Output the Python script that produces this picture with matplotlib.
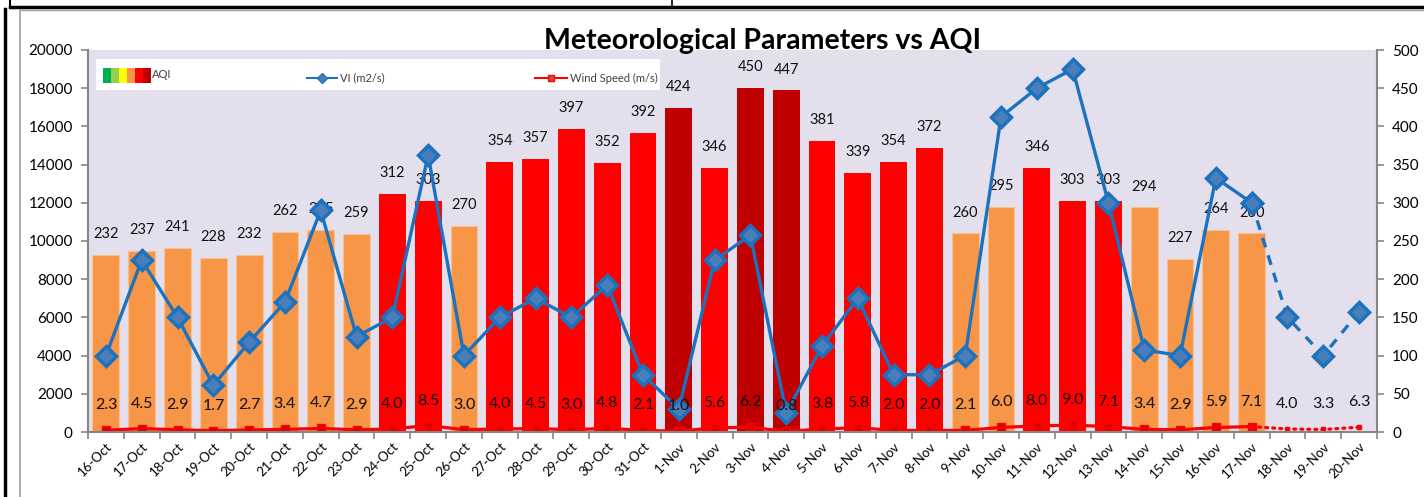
import numpy as np
import matplotlib
matplotlib.use("Agg")
import matplotlib.pyplot as plt
from matplotlib.patches import Rectangle
from matplotlib.lines import Line2D

plt.rcParams['font.family'] = ['Lato', 'DejaVu Sans']

# ---- data ----
dates = ['16-Oct', '17-Oct', '18-Oct', '19-Oct', '20-Oct', '21-Oct', '22-Oct', '23-Oct',
         '24-Oct', '25-Oct', '26-Oct', '27-Oct', '28-Oct', '29-Oct', '30-Oct', '31-Oct',
         '1-Nov', '2-Nov', '3-Nov', '4-Nov', '5-Nov', '6-Nov', '7-Nov', '8-Nov',
         '9-Nov', '10-Nov', '11-Nov', '12-Nov', '13-Nov', '14-Nov', '15-Nov', '16-Nov',
         '17-Nov', '18-Nov', '19-Nov', '20-Nov']

aqi = [232, 237, 241, 228, 232, 262, 265, 259, 312, 303, 270, 354, 357, 397, 352, 392,
       424, 346, 450, 447, 381, 339, 354, 372, 260, 295, 346, 303, 303, 294, 227, 264, 260]

vi = [4000, 9000, 6000, 2450, 4700, 6800, 11600, 5000, 6000, 14500, 4000, 6000, 7000, 6000,
      7700, 3000, 1200, 9000, 10300, 1000, 4500, 7000, 3000, 3000, 4000, 16500, 18000, 19000,
      12000, 4300, 4000, 13300, 12000, 6000, 4000, 6300]

wind = [2.3, 4.5, 2.9, 1.7, 2.7, 3.4, 4.7, 2.9, 4.0, 8.5, 3.0, 4.0, 4.5, 3.0, 4.8, 2.1,
        1.0, 5.6, 6.2, 0.8, 3.8, 5.8, 2.0, 2.0, 2.1, 6.0, 8.0, 9.0, 7.1, 3.4, 2.9, 5.9,
        7.1, 4.0, 3.3, 6.3]

n_obs = len(aqi)   # observed days; the rest are forecast (dashed / dotted)

aqi_scale = ['#00B050', '#92D050', '#FFFF00', '#F79646', '#FF0000', '#C00000']


def aqi_color(v):
    if v > 400:
        return '#C00000'
    if v > 300:
        return '#FF0000'
    if v > 200:
        return '#F79646'
    return '#FFFF00'


x = np.arange(len(dates))
xo = x[:n_obs]
xf = x[n_obs - 1:]

fig = plt.figure(figsize=(14.24, 4.97), dpi=100)
ax = fig.add_axes([88 / 1424, 1 - 432 / 497, 1289 / 1424, 382 / 497])
ax2 = ax.twinx()

# VI axis (left) drawn on top of the AQI bars (right axis)
ax.set_zorder(ax2.get_zorder() + 1)
ax.patch.set_visible(False)
ax2.patch.set_visible(True)
ax2.patch.set_facecolor('#E4DFEC')

# bars
ax2.bar(xo, aqi, width=0.75, color=[aqi_color(v) for v in aqi],
        edgecolor=['#FAC090' if aqi_color(v) == '#F79646' else 'none' for v in aqi],
        linewidth=0.8, zorder=2)
for xi, v in zip(xo, aqi):
    ax2.annotate(str(v), (xi, v), xytext=(0, 15), textcoords='offset points',
                 ha='center', va='center', fontsize=10.5, color='#111111', zorder=3)

# wind speed
ax2.plot(xo, wind[:n_obs], color='#FF0000', lw=2.3, marker='s', ms=5.5,
         mec='#FF0000', mfc='#E00000', zorder=4)
ax2.plot(xf, wind[n_obs - 1:], color='#FF0000', lw=2.3, ls=(0, (0.6, 1.6)),
         dash_capstyle='round', marker='s', ms=3.5, zorder=4)

# VI
blue = '#1C72BD'
ax.plot(xo, vi[:n_obs], color=blue, lw=2.4, marker='D', ms=10, mfc='#4A7EBB',
        mec=blue, mew=2.5, zorder=5)
ax.plot(xf, vi[n_obs - 1:], color=blue, lw=2.4, ls=(0, (3, 2.5)), marker='D', ms=10,
        mfc='#4A7EBB', mec=blue, mew=2.5, zorder=5)

# wind labels sit on top of the VI line
for xi, v in zip(x, wind):
    ax.annotate(f'{v:.1f}', (xi, v), xycoords=ax2.transData, xytext=(0, 18),
                textcoords='offset points', ha='center', va='center', fontsize=11.5,
                color='#111111', zorder=6)

# axes
ax.set_xlim(-0.5, len(dates) - 0.5)
ax.set_ylim(0, 20000)
ax.set_yticks(np.arange(0, 20001, 2000))
ax2.set_ylim(0, 500)
ax2.set_yticks(np.arange(0, 501, 50))

ax.set_xticks(x)
ax.set_xticklabels(dates, rotation=45, ha='right', rotation_mode='anchor', fontsize=9.5)
ax.set_xticks(np.arange(-0.5, len(dates)), minor=True)
ax.tick_params(axis='x', which='major', length=0, pad=6)
ax.tick_params(axis='x', which='minor', length=5, color='#868686', width=1.2)
ax.tick_params(axis='y', length=5, color='#868686', width=1.2, labelsize=11, pad=6)
ax2.tick_params(axis='y', length=5, color='#868686', width=1.2, labelsize=11, pad=6)

for a in (ax, ax2):
    for s in a.spines.values():
        s.set_visible(False)
ax.spines['left'].set_visible(True)
ax.spines['bottom'].set_visible(True)
ax2.spines['right'].set_visible(True)
for s in (ax.spines['left'], ax.spines['bottom'], ax2.spines['right']):
    s.set_color('#868686')
    s.set_linewidth(1.5)

# legend box (drawn by hand to mimic the Excel legend)
def fx(px):
    return (px - 88) / 1289


def fy(py):
    return (432 - py) / 382


ax.add_patch(Rectangle((fx(96), fy(90)), fx(660) - fx(96), fy(59) - fy(90),
                       transform=ax.transAxes, facecolor='white', edgecolor='none',
                       zorder=7))
bw = 8
for i, c in enumerate(aqi_scale):
    ax.add_patch(Rectangle((fx(103 + i * bw), fy(83)), fx(103 + (i + 1) * bw) - fx(103 + i * bw),
                           fy(68) - fy(83), transform=ax.transAxes, facecolor=c,
                           edgecolor='none', zorder=8))
ax.text(fx(152), fy(75), 'AQI', transform=ax.transAxes, fontsize=8, color='#404040',
        va='center', ha='left', zorder=8)
ax.add_line(Line2D([fx(307), fx(337)], [fy(78), fy(78)], transform=ax.transAxes,
                   color=blue, lw=1.5, zorder=8))
ax.add_line(Line2D([fx(322)], [fy(78)], transform=ax.transAxes, marker='D', ms=5,
                   color=blue, mfc='#4A7EBB', zorder=9))
ax.text(fx(340), fy(78), 'VI (m2/s)', transform=ax.transAxes, fontsize=8,
        color='#404040', va='center', ha='left', zorder=8)
ax.add_line(Line2D([fx(535), fx(567)], [fy(78), fy(78)], transform=ax.transAxes,
                   color='#FF0000', lw=1.5, zorder=8))
ax.add_line(Line2D([fx(551)], [fy(78)], transform=ax.transAxes, marker='s', ms=5,
                   color='#FF0000', mfc='#C0504D', zorder=9))
ax.text(fx(570), fy(78), 'Wind Speed (m/s)', transform=ax.transAxes, fontsize=8,
        color='#404040', va='center', ha='left', zorder=8)

fig.text(763 / 1424, 1 - 41 / 497, 'Meteorological Parameters vs AQI', fontsize=20.5,
         fontweight='bold', ha='center', va='center', color='black')

# page frame around the chart
fig.add_artist(Line2D([10 / 1424, 1], [1 - 7 / 497, 1 - 7 / 497], color='black', lw=2.5))
fig.add_artist(Line2D([10 / 1424, 10 / 1424], [1, 1 - 7 / 497], color='black', lw=1.5))
fig.add_artist(Line2D([672 / 1424, 672 / 1424], [1, 1 - 7 / 497], color='black', lw=1.2))
fig.add_artist(Line2D([5 / 1424, 5 / 1424], [0, 1 - 9 / 497], color='black', lw=2.5))
fig.add_artist(Line2D([20 / 1424, 20 / 1424], [0, 1 - 10 / 497], color='#A0A0A0', lw=1.2))
fig.add_artist(Line2D([20 / 1424, 1], [1 - 10 / 497, 1 - 10 / 497], color='#A0A0A0', lw=1.0))

fig.savefig('out.png', dpi=100)
